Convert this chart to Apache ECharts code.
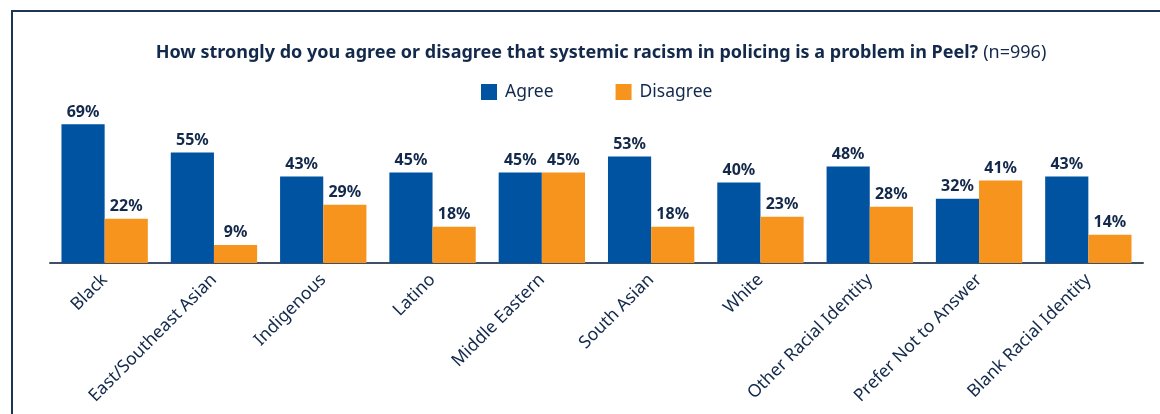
<!DOCTYPE html>
<html>
<head>
<meta charset="utf-8">
<script src="https://cdn.jsdelivr.net/npm/echarts@6/dist/echarts.min.js"></script>
<style>
  html, body { margin: 0; padding: 0; background: #fff; overflow: hidden; }
  #chart { width: 1160px; height: 414px; }
</style>
</head>
<body>
<div id="chart"></div>
<script>
const categories = [
  'Black', 'East/Southeast Asian', 'Indigenous', 'Latino', 'Middle Eastern',
  'South Asian', 'White', 'Other Racial Identity', 'Prefer Not to Answer', 'Blank Racial Identity'
];
const agree    = [69, 55, 43, 45, 45, 53, 40, 48, 32, 43];
const disagree = [22,  9, 29, 18, 45, 18, 23, 28, 41, 14];

const navy = '#13294b';
const font = '"Noto Sans", "Open Sans", sans-serif';

const chart = echarts.init(document.getElementById('chart'), null, { renderer: 'canvas' });

const labelStyle = {
  show: true,
  position: 'top',
  distance: 4,
  formatter: p => p.value + '%',
  color: navy,
  fontFamily: font,
  fontWeight: 'bold',
  fontSize: 16
};

chart.setOption({
  animation: false,
  title: {
    text: '{b|How strongly do you agree or disagree that systemic racism in policing is a problem in Peel?} {n|(n=996)}',
    left: 596,
    textAlign: 'center',
    top: 39,
    textStyle: {
      rich: {
        b: { fontFamily: font, fontWeight: 'bold', fontSize: 18, color: navy },
        n: { fontFamily: font, fontWeight: 'normal', fontSize: 18, color: navy }
      }
    }
  },
  legend: {
    data: ['Agree', 'Disagree'],
    left: 476,
    top: 78,
    itemWidth: 16,
    itemHeight: 16,
    itemGap: 62,
    icon: 'rect',
    textStyle: { color: navy, fontFamily: font, fontSize: 17.5, padding: [0, 0, 0, 3] }
  },
  grid: { left: 50, right: 17, top: 62, bottom: 151 },
  xAxis: {
    type: 'category',
    data: categories,
    axisLine: { lineStyle: { color: '#3e4f66', width: 2 } },
    axisTick: { show: false },
    axisLabel: {
      rotate: 45,
      margin: 14,
      interval: 0,
      color: navy,
      fontFamily: font,
      fontSize: 17.5
    }
  },
  yAxis: {
    type: 'value',
    min: 0,
    max: 100,
    show: false,
    splitLine: { show: false }
  },
  graphic: [
    { type: 'line', shape: { x1: 12, y1: 11, x2: 12, y2: 414 }, style: { stroke: '#1d3557', lineWidth: 2 } },
    { type: 'line', shape: { x1: 11, y1: 11, x2: 1160, y2: 11 }, style: { stroke: '#1d3557', lineWidth: 2 } }
  ],
  series: [
    {
      name: 'Agree',
      type: 'bar',
      data: agree,
      barGap: '0%',
      barCategoryGap: '21%',
      itemStyle: { color: '#0053a0' },
      label: labelStyle
    },
    {
      name: 'Disagree',
      type: 'bar',
      data: disagree,
      itemStyle: { color: '#f7941e' },
      label: labelStyle
    }
  ]
});
</script>
</body>
</html>
